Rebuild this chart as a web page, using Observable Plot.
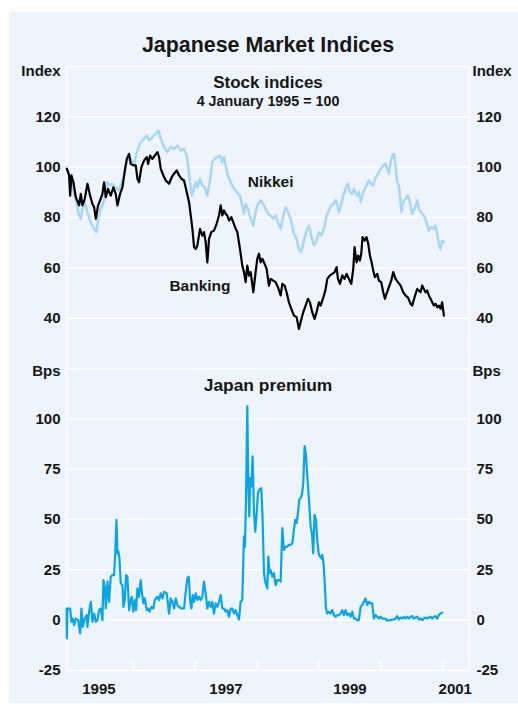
<!DOCTYPE html>
<html>
<head>
<meta charset="utf-8">
<script src="https://cdn.jsdelivr.net/npm/d3@7"></script>
<script src="https://cdn.jsdelivr.net/npm/@observablehq/plot@0.6"></script>
<style>
  html, body { margin: 0; padding: 0; background: #ffffff; }
  #chart { position: relative; width: 518px; height: 704px; overflow: hidden; }
  #bg { position: absolute; left: 9px; top: 12px; right: 0; bottom: 1px; background: #edf4fb; }
  #chart svg { position: absolute; left: 0; top: 0; }
</style>
</head>
<body>
<div id="chart"><div id="bg"></div></div>
<script>
// ---- Data (x in decimal years) ----
const nikkei = [
[1994.931,100.0],[1994.968,97.4],[1995.022,92.0],[1995.076,86.8],[1995.130,80.8],[1995.157,79.5],[1995.183,83.4],[1995.221,86.1],[1995.264,82.1],[1995.318,78.1],[1995.372,75.5],[1995.409,74.2],[1995.436,79.5],[1995.479,83.4],[1995.533,86.8],[1995.587,94.0],[1995.630,92.7],[1995.667,93.4],[1995.721,92.0],[1995.775,90.7],[1995.829,94.7],[1995.883,100.7],[1995.936,104.6],[1995.979,102.7],[1996.017,101.3],[1996.060,106.0],[1996.124,109.9],[1996.178,111.3],[1996.221,112.6],[1996.259,110.6],[1996.312,111.9],[1996.366,113.3],[1996.409,114.6],[1996.447,111.3],[1996.501,108.0],[1996.554,106.0],[1996.608,108.0],[1996.662,107.3],[1996.716,108.6],[1996.770,106.6],[1996.823,107.3],[1996.866,104.6],[1996.904,97.4],[1996.947,88.7],[1996.973,90.7],[1997.011,94.0],[1997.038,92.0],[1997.081,95.4],[1997.118,92.7],[1997.156,92.0],[1997.199,88.7],[1997.242,94.7],[1997.279,102.0],[1997.317,103.3],[1997.360,104.0],[1997.403,104.6],[1997.441,102.0],[1997.468,104.0],[1997.495,100.7],[1997.532,96.7],[1997.575,94.0],[1997.618,92.0],[1997.672,90.1],[1997.726,88.7],[1997.763,84.8],[1997.790,81.5],[1997.817,85.4],[1997.855,83.4],[1997.898,79.5],[1997.941,76.8],[1997.978,82.1],[1998.016,85.4],[1998.059,86.8],[1998.102,85.4],[1998.140,83.4],[1998.177,81.5],[1998.220,80.8],[1998.263,79.5],[1998.301,80.8],[1998.339,78.1],[1998.382,75.5],[1998.425,80.8],[1998.462,84.1],[1998.500,82.1],[1998.543,79.5],[1998.597,73.5],[1998.640,71.5],[1998.677,67.5],[1998.715,66.2],[1998.758,70.8],[1998.801,74.8],[1998.839,76.8],[1998.876,72.8],[1998.919,68.9],[1998.962,70.8],[1999.000,74.2],[1999.038,72.8],[1999.081,75.5],[1999.124,80.8],[1999.161,82.8],[1999.199,84.8],[1999.242,85.4],[1999.269,86.8],[1999.296,85.4],[1999.323,82.1],[1999.360,85.4],[1999.393,88.7],[1999.430,91.4],[1999.468,93.4],[1999.500,90.1],[1999.538,89.4],[1999.565,91.4],[1999.608,88.7],[1999.645,90.1],[1999.672,86.1],[1999.699,88.7],[1999.726,90.7],[1999.769,92.7],[1999.807,94.7],[1999.844,93.4],[1999.876,92.7],[1999.903,95.4],[1999.941,96.7],[1999.968,98.0],[1999.995,99.3],[2000.038,100.7],[2000.075,101.3],[2000.102,99.3],[2000.129,97.4],[2000.156,102.0],[2000.183,104.6],[2000.210,105.3],[2000.237,100.7],[2000.264,94.0],[2000.290,92.7],[2000.317,86.1],[2000.333,82.1],[2000.360,86.1],[2000.398,87.4],[2000.436,88.7],[2000.468,86.1],[2000.505,81.5],[2000.543,83.4],[2000.586,86.8],[2000.613,83.4],[2000.651,82.1],[2000.694,80.8],[2000.737,78.1],[2000.774,74.8],[2000.812,76.2],[2000.855,75.5],[2000.882,76.8],[2000.909,73.5],[2000.935,69.5],[2000.962,67.5],[2000.989,70.8],[2001.016,70.2]
];

const banking = [
[1994.931,99.3],[1994.968,96.7],[1994.985,88.7],[1995.006,96.7],[1995.038,94.0],[1995.076,88.1],[1995.130,84.8],[1995.157,89.4],[1995.183,84.8],[1995.221,87.4],[1995.264,93.4],[1995.307,88.7],[1995.345,85.4],[1995.372,84.1],[1995.399,79.5],[1995.436,84.8],[1995.468,86.8],[1995.506,89.4],[1995.533,94.0],[1995.560,88.1],[1995.597,91.4],[1995.640,88.7],[1995.683,92.0],[1995.721,89.4],[1995.748,84.8],[1995.791,89.4],[1995.829,92.0],[1995.872,99.3],[1995.899,103.3],[1995.936,105.3],[1995.963,101.3],[1996.006,100.7],[1996.044,100.7],[1996.071,95.4],[1996.097,94.0],[1996.135,100.0],[1996.178,102.7],[1996.221,104.0],[1996.243,101.3],[1996.275,104.6],[1996.312,103.3],[1996.350,104.6],[1996.393,106.0],[1996.420,104.0],[1996.447,99.3],[1996.490,96.7],[1996.528,94.7],[1996.581,93.4],[1996.624,96.0],[1996.662,97.4],[1996.705,98.7],[1996.743,96.7],[1996.780,95.4],[1996.823,94.7],[1996.866,90.1],[1996.904,86.1],[1996.931,80.8],[1996.958,75.5],[1996.985,68.2],[1997.012,67.5],[1997.038,68.9],[1997.081,75.5],[1997.118,72.8],[1997.145,74.2],[1997.172,70.2],[1997.199,62.2],[1997.226,71.5],[1997.263,74.2],[1997.306,74.8],[1997.349,77.5],[1997.387,80.8],[1997.414,84.8],[1997.441,80.8],[1997.468,82.8],[1997.495,81.5],[1997.521,80.8],[1997.548,78.8],[1997.586,80.1],[1997.618,78.1],[1997.656,75.5],[1997.683,74.2],[1997.726,67.5],[1997.763,60.9],[1997.790,58.3],[1997.817,54.3],[1997.844,60.9],[1997.871,56.9],[1997.898,58.3],[1997.941,50.3],[1997.978,58.3],[1998.005,63.6],[1998.032,65.6],[1998.059,62.2],[1998.086,63.6],[1998.113,62.2],[1998.156,59.6],[1998.193,52.9],[1998.220,55.6],[1998.263,54.9],[1998.301,54.3],[1998.339,52.3],[1998.382,49.0],[1998.409,53.6],[1998.446,52.9],[1998.478,50.3],[1998.516,46.3],[1998.554,43.7],[1998.597,41.0],[1998.640,40.4],[1998.677,35.7],[1998.704,38.4],[1998.747,42.4],[1998.785,45.0],[1998.822,47.7],[1998.855,46.3],[1998.892,42.4],[1998.930,39.7],[1998.962,42.4],[1999.000,46.3],[1999.027,45.0],[1999.081,49.0],[1999.108,51.6],[1999.135,55.6],[1999.177,57.0],[1999.215,57.6],[1999.253,58.3],[1999.285,60.3],[1999.307,55.6],[1999.339,53.6],[1999.376,57.0],[1999.414,55.6],[1999.446,57.6],[1999.484,55.6],[1999.522,53.6],[1999.554,59.6],[1999.575,68.2],[1999.608,62.2],[1999.634,64.9],[1999.661,62.9],[1999.683,65.6],[1999.704,72.2],[1999.737,70.8],[1999.769,72.2],[1999.796,69.5],[1999.823,64.9],[1999.850,62.2],[1999.876,58.9],[1999.903,56.3],[1999.941,57.6],[1999.968,54.9],[2000.005,54.3],[2000.038,50.3],[2000.065,47.7],[2000.091,49.7],[2000.129,52.3],[2000.167,54.9],[2000.199,58.3],[2000.237,55.6],[2000.274,54.3],[2000.317,53.0],[2000.360,50.3],[2000.398,49.0],[2000.436,48.3],[2000.479,45.7],[2000.505,45.0],[2000.543,48.3],[2000.586,51.6],[2000.613,51.0],[2000.640,50.3],[2000.667,53.0],[2000.694,51.6],[2000.720,50.3],[2000.747,51.0],[2000.774,49.0],[2000.801,47.7],[2000.828,46.3],[2000.855,45.0],[2000.882,45.7],[2000.909,44.3],[2000.935,45.0],[2000.962,43.7],[2000.989,46.3],[2001.016,41.0]
];

const premium = [
[1994.928,5.8],[1994.931,-9.1],[1994.942,5.8],[1994.985,5.8],[1995.006,-0.8],[1995.028,0.8],[1995.049,-2.5],[1995.076,0.8],[1995.114,0.0],[1995.146,-6.6],[1995.167,5.8],[1995.189,-3.3],[1995.221,0.8],[1995.253,2.5],[1995.264,-3.3],[1995.291,4.2],[1995.318,9.1],[1995.345,-0.8],[1995.372,3.3],[1995.399,-0.8],[1995.425,0.0],[1995.452,5.0],[1995.479,5.8],[1995.506,0.0],[1995.522,19.9],[1995.544,16.6],[1995.560,5.8],[1995.587,19.1],[1995.614,9.1],[1995.640,21.6],[1995.667,22.4],[1995.694,22.4],[1995.710,31.6],[1995.732,49.8],[1995.748,33.2],[1995.764,34.1],[1995.780,30.7],[1995.802,18.3],[1995.829,17.4],[1995.845,6.6],[1995.866,10.0],[1995.888,22.4],[1995.909,21.6],[1995.936,5.0],[1995.963,10.0],[1995.979,11.6],[1996.006,4.2],[1996.028,10.0],[1996.049,5.0],[1996.071,15.8],[1996.097,11.6],[1996.124,19.9],[1996.141,14.1],[1996.167,8.3],[1996.189,10.8],[1996.221,5.0],[1996.243,5.8],[1996.264,4.2],[1996.296,6.6],[1996.329,5.8],[1996.350,10.0],[1996.393,11.6],[1996.420,10.0],[1996.447,13.3],[1996.474,10.8],[1996.501,14.1],[1996.544,13.3],[1996.581,3.3],[1996.608,10.8],[1996.635,9.1],[1996.662,5.8],[1996.689,10.8],[1996.716,7.5],[1996.743,6.6],[1996.780,5.8],[1996.823,5.8],[1996.850,14.1],[1996.877,20.8],[1996.899,21.6],[1996.920,10.0],[1996.942,5.8],[1996.963,12.5],[1996.984,9.1],[1997.011,13.3],[1997.038,10.0],[1997.064,11.6],[1997.091,10.0],[1997.118,11.6],[1997.145,19.1],[1997.172,13.3],[1997.199,5.8],[1997.226,9.1],[1997.253,6.6],[1997.280,9.1],[1997.306,3.3],[1997.333,8.3],[1997.360,6.6],[1997.387,9.1],[1997.414,12.5],[1997.441,5.8],[1997.468,5.8],[1997.495,4.2],[1997.521,5.0],[1997.548,1.7],[1997.575,5.8],[1997.602,5.8],[1997.629,3.3],[1997.656,5.0],[1997.683,2.5],[1997.710,0.3],[1997.736,9.1],[1997.763,10.0],[1997.790,41.5],[1997.806,36.5],[1997.823,59.8],[1997.844,106.3],[1997.860,68.1],[1997.876,51.5],[1997.892,70.6],[1997.909,66.4],[1997.930,81.4],[1997.952,53.2],[1997.973,44.0],[1997.995,53.2],[1998.016,63.1],[1998.038,64.8],[1998.070,65.6],[1998.091,49.8],[1998.113,23.3],[1998.140,18.3],[1998.167,15.8],[1998.183,31.6],[1998.204,23.3],[1998.220,24.9],[1998.247,21.6],[1998.274,23.3],[1998.301,17.4],[1998.328,19.9],[1998.355,19.9],[1998.382,19.1],[1998.409,45.7],[1998.435,34.9],[1998.462,36.5],[1998.489,36.5],[1998.516,37.4],[1998.543,37.4],[1998.570,38.2],[1998.597,44.8],[1998.618,49.8],[1998.640,48.2],[1998.661,53.2],[1998.683,59.8],[1998.704,60.6],[1998.726,62.3],[1998.747,68.1],[1998.769,86.4],[1998.790,82.2],[1998.812,71.4],[1998.839,59.8],[1998.866,46.5],[1998.887,43.2],[1998.908,33.2],[1998.930,52.3],[1998.952,49.8],[1998.973,39.9],[1998.995,33.2],[1999.016,31.6],[1999.038,30.7],[1999.054,32.4],[1999.075,28.0],[1999.097,16.6],[1999.113,5.8],[1999.134,3.3],[1999.161,4.2],[1999.188,3.3],[1999.215,5.0],[1999.242,2.5],[1999.269,1.7],[1999.296,2.5],[1999.323,2.5],[1999.350,3.3],[1999.376,5.0],[1999.403,2.5],[1999.430,5.0],[1999.457,2.5],[1999.484,3.3],[1999.511,1.7],[1999.538,4.2],[1999.565,0.8],[1999.592,0.8],[1999.618,0.0],[1999.645,0.0],[1999.672,6.6],[1999.699,7.5],[1999.726,9.1],[1999.753,10.8],[1999.780,7.5],[1999.807,9.1],[1999.833,8.3],[1999.860,8.3],[1999.887,0.8],[1999.914,2.5],[1999.941,1.7],[1999.968,0.8],[1999.995,1.7],[2000.022,0.8],[2000.048,0.8],[2000.075,0.8],[2000.102,-0.3],[2000.129,0.0],[2000.156,0.0],[2000.183,0.3],[2000.210,0.3],[2000.237,0.8],[2000.263,2.0],[2000.290,0.3],[2000.317,1.3],[2000.344,0.8],[2000.371,1.7],[2000.398,0.8],[2000.425,1.7],[2000.452,0.8],[2000.478,1.7],[2000.505,2.0],[2000.532,0.8],[2000.559,1.3],[2000.586,1.7],[2000.613,0.3],[2000.640,0.8],[2000.667,0.0],[2000.694,0.8],[2000.720,1.3],[2000.747,0.8],[2000.774,1.3],[2000.801,1.7],[2000.828,0.8],[2000.855,1.7],[2000.882,2.0],[2000.909,0.8],[2000.935,2.5],[2000.962,3.3],[2000.989,3.7]
];

const xDomain = [1994.926, 2001.43];
const yearTicks = [1996, 1997, 1998, 1999, 2000, 2001];
const xLabelPos = [1995.45, 1997.5, 1999.5, 2001.2];
const xLabels = ["1995", "1997", "1999", "2001"];
const topDomain = [20, 140];
const topTicks = [40, 60, 80, 100, 120];
const bottomDomain = [-25, 125];
const bottomTicks = [-25, 0, 25, 50, 75, 100];
const bottomGrid = [0, 25, 50, 75, 100];
const seriesLabels = [
  {text: "Nikkei", x: 1998.22, y: 94.2},
  {text: "Banking", x: 1997.08, y: 52.8}
];

// ---- Styles ----
const FONT = "'Liberation Sans', Arial, Helvetica, sans-serif";
const INK = "#161616";
const GRID = "#ffffff";
const C_NIKKEI = "#a9d6f3";
const C_BANK = "#000000";
const C_PREM = "#0aa5e6";

const baseStyle = {background: "transparent", fontFamily: FONT, fontWeight: "bold", fontSize: "15px", color: INK, overflow: "visible"};
const yAxisOpts = {tickSize: 0, fontSize: 15, fontWeight: "bold", fill: INK, label: null, tickFormat: d => String(d)};
const txt = {fontWeight: "bold", fill: INK, lineAnchor: "middle"};

const topPlot = Plot.plot({
  width: 518, height: 368,
  marginLeft: 66, marginRight: 49, marginTop: 66, marginBottom: 0,
  x: {domain: xDomain, axis: null},
  y: {domain: topDomain},
  style: baseStyle,
  marks: [
    Plot.gridY(topTicks, {stroke: GRID, strokeOpacity: 1, strokeWidth: 1.5}),
    Plot.frame({stroke: GRID, strokeWidth: 1.5}),
    Plot.axisY(topTicks, {...yAxisOpts, anchor: "left", tickPadding: 6}),
    Plot.axisY(topTicks, {...yAxisOpts, anchor: "right", tickPadding: 7}),
    Plot.line(nikkei, {x: d => d[0], y: d => d[1], stroke: C_NIKKEI, strokeWidth: 2.5}),
    Plot.line(banking, {x: d => d[0], y: d => d[1], stroke: C_BANK, strokeWidth: 2.2}),
    Plot.text(seriesLabels, {x: "x", y: "y", text: "text", fontSize: 15.5, ...txt}),
    Plot.text(["Japanese Market Indices"], {frameAnchor: "top", dy: -21.5, fontSize: 21.4, ...txt}),
    Plot.text(["Stock indices"], {frameAnchor: "top", dy: 16, fontSize: 17, ...txt}),
    Plot.text(["4 January 1995 = 100"], {frameAnchor: "top", dy: 34.5, fontSize: 14.3, ...txt}),
    Plot.text(["Index"], {frameAnchor: "top-left", dx: -6, dy: 5, textAnchor: "end", fontSize: 15, ...txt}),
    Plot.text(["Index"], {frameAnchor: "top-right", dx: 3, dy: 5, textAnchor: "start", fontSize: 15, ...txt})
  ]
});

const bottomPlot = Plot.plot({
  width: 518, height: 704,
  marginLeft: 66, marginRight: 49, marginTop: 368, marginBottom: 34,
  x: {domain: xDomain},
  y: {domain: bottomDomain},
  style: baseStyle,
  marks: [
    Plot.gridY(bottomGrid, {stroke: GRID, strokeOpacity: 1, strokeWidth: 1.5}),
    Plot.frame({stroke: GRID, strokeWidth: 1.5}),
    Plot.tickX(yearTicks, {x: d => d, stroke: GRID, strokeWidth: 1.5, insetTop: 293}),
    Plot.axisY(bottomTicks, {...yAxisOpts, anchor: "left", tickPadding: 6}),
    Plot.axisY(bottomTicks, {...yAxisOpts, anchor: "right", tickPadding: 7}),
    Plot.axisX(xLabelPos, {anchor: "bottom", tickSize: 0, tickPadding: 13, fontSize: 15, fontWeight: "bold", fill: INK, label: null,
      tickFormat: d => xLabels[xLabelPos.indexOf(d)]}),
    Plot.line(premium, {x: d => d[0], y: d => d[1], stroke: C_PREM, strokeWidth: 2.2}),
    Plot.text(["Japan premium"], {frameAnchor: "top", dy: 17, fontSize: 17.4, ...txt}),
    Plot.text(["Bps"], {frameAnchor: "top-left", dx: -6, dy: 3, textAnchor: "end", fontSize: 15, ...txt}),
    Plot.text(["Bps"], {frameAnchor: "top-right", dx: 3, dy: 3, textAnchor: "start", fontSize: 15, ...txt})
  ]
});

const chart = document.getElementById("chart");
chart.appendChild(topPlot);
chart.appendChild(bottomPlot);
</script>
</body>
</html>
